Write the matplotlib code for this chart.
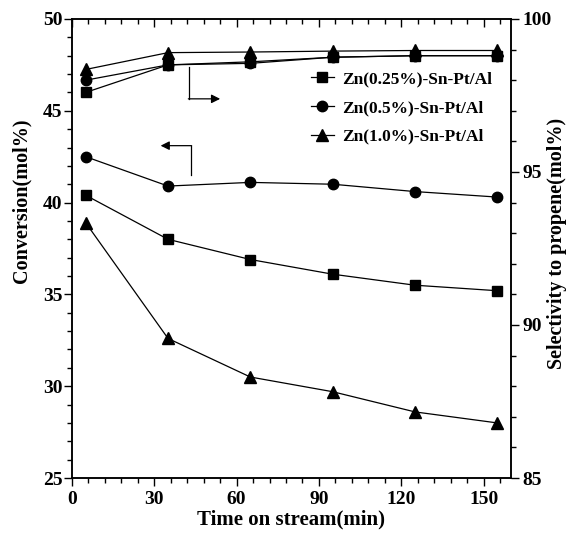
import matplotlib
matplotlib.use("Agg")
import matplotlib.pyplot as plt
from matplotlib import ticker

plt.rcParams['font.family'] = ['Liberation Serif', 'DejaVu Serif']
plt.rcParams['font.weight'] = 'bold'
plt.rcParams['axes.labelweight'] = 'bold'

time_min = [5, 35, 65, 95, 125, 155]

# conversion (left axis)
conv_025 = [40.4, 38.0, 36.9, 36.1, 35.5, 35.2]
conv_05 = [42.5, 40.9, 41.1, 41.0, 40.6, 40.3]
conv_10 = [38.9, 32.6, 30.5, 29.7, 28.6, 28.0]

# selectivity to propene (right axis)
sel_025 = [97.6, 98.5, 98.6, 98.75, 98.8, 98.8]
sel_05 = [98.0, 98.5, 98.55, 98.75, 98.8, 98.8]
sel_10 = [98.35, 98.9, 98.92, 98.95, 98.97, 98.97]

labels = ["Zn(0.25%)-Sn-Pt/Al", "Zn(0.5%)-Sn-Pt/Al", "Zn(1.0%)-Sn-Pt/Al"]
markers = ["s", "o", "^"]


def main():
    fig = plt.figure(figsize=(5.7, 5.36), dpi=100)
    ax = fig.add_axes([0.1263, 0.1082, 0.7702, 0.8564])
    ax2 = ax.twinx()

    kw = dict(color="black", lw=0.9)
    for y, m in zip([conv_025, conv_05, conv_10], markers):
        ax.plot(time_min, y, marker=m, ms=8 if m == "^" else 7.5, **kw)
    handles = []
    for y, m, lab in zip([sel_025, sel_05, sel_10], markers, labels):
        h, = ax2.plot(time_min, y, marker=m, ms=8 if m == "^" else 7.5, label=lab, **kw)
        handles.append(h)

    ax.set_xlim(0, 160)
    ax.set_ylim(25, 50)
    ax2.set_ylim(85, 100)

    ax.xaxis.set_major_locator(ticker.MultipleLocator(30))
    ax.xaxis.set_minor_locator(ticker.MultipleLocator(6))
    ax.yaxis.set_major_locator(ticker.MultipleLocator(5))
    ax.yaxis.set_minor_locator(ticker.MultipleLocator(1))
    ax2.yaxis.set_major_locator(ticker.MultipleLocator(5))
    ax2.yaxis.set_minor_locator(ticker.MultipleLocator(1))

    ax.tick_params(axis="x", which="both", direction="out", top=True, labelsize=14, width=1)
    ax.tick_params(axis="y", which="both", direction="out", labelsize=14, width=1, pad=1)
    ax.tick_params(which="major", length=6)
    ax.tick_params(which="minor", length=3.5)
    ax2.tick_params(axis="y", which="both", direction="out", labelsize=14, width=1, pad=2)
    ax2.tick_params(which="major", length=6)
    ax2.tick_params(which="minor", length=3.5)
    # top ticks point inward
    for t in ax.xaxis.get_major_ticks() + ax.xaxis.get_minor_ticks():
        t.tick2line.set_marker(3)
    for s in list(ax.spines.values()) + list(ax2.spines.values()):
        s.set_linewidth(1.1)

    ax.set_xlabel("Time on stream(min)", fontsize=15, labelpad=1)
    ax.set_ylabel("Conversion(mol%)", fontsize=14.5)
    ax2.set_ylabel("Selectivity to propene(mol%)", fontsize=14.5)
    ax.yaxis.set_label_coords(-0.093, 0.603)
    ax2.yaxis.set_label_coords(1.083, 0.51)

    # guide arrows
    ax.plot([42.5, 42.5], [47.4, 45.65], color="black", lw=0.9)
    ax.annotate("", xy=(54, 45.65), xytext=(42.4, 45.65),
                arrowprops=dict(arrowstyle="-|>", color="black", lw=0.9,
                                mutation_scale=13, shrinkA=0, shrinkB=0))
    ax.plot([43.5, 43.5], [41.5, 43.1], color="black", lw=0.9)
    ax.annotate("", xy=(32.3, 43.1), xytext=(43.6, 43.1),
                arrowprops=dict(arrowstyle="-|>", color="black", lw=0.9,
                                mutation_scale=13, shrinkA=0, shrinkB=0))

    fig.legend(handles=handles, loc="center left", bbox_to_anchor=(0.5456, 0.7985),
               frameon=False, fontsize=12.5, handlelength=1.3, handletextpad=0.5,
               labelspacing=0.72, borderpad=0, borderaxespad=0)

    fig.savefig("out.png", dpi=100)


if __name__ == '__main__':
    main()
